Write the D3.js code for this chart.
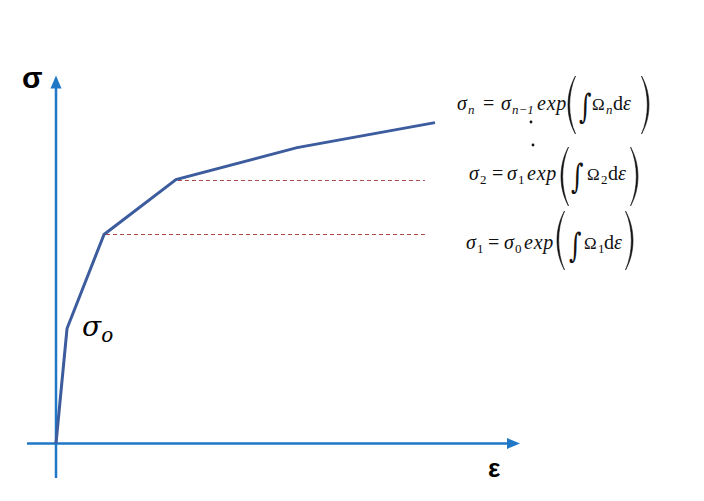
<!DOCTYPE html>
<html><head><meta charset="utf-8">
<script src="https://cdn.jsdelivr.net/npm/d3@7"></script>
<style>body{margin:0;background:#fff}svg{display:block}</style>
</head><body>
<script>
// Data (strain, stress in arbitrary units)
const strain = [0, 0.95, 4.14, 10.34, 20.78, 32.67];
const stress = [0, 31.25, 56.8, 71.7, 80.4, 87.2];
// yield steps marked with dashed reference lines (index into points)
const stepIdx = [2, 3];
const stepEnd = 31.8; // strain where dashed lines end
const axisLabels = {x: "ε", y: "σ"};

const W = 704, H = 501;
const svg = d3.select("body").append("svg").attr("width", W).attr("height", H);

const x = d3.scaleLinear().domain([0, 40]).range([56, 520]);
const y = d3.scaleLinear().domain([0, 100]).range([443.5, 75.5]);

const axisColor = "#1f77c6";
const curveColor = "#3c5c9e";

// axes
svg.append("line").attr("x1", x(0)).attr("x2", x(0)).attr("y1", 478).attr("y2", y(97)).attr("stroke", axisColor).attr("stroke-width", 2.5);
svg.append("path").attr("d", `M${x(0)},${y(100)} L${x(0)-5.5},${y(100)+13} L${x(0)+5.5},${y(100)+13}Z`).attr("fill", axisColor);
svg.append("line").attr("x1", 27).attr("x2", x(39)).attr("y1", y(0)).attr("y2", y(0)).attr("stroke", axisColor).attr("stroke-width", 2.5);
svg.append("path").attr("d", `M${x(40)},${y(0)} L${x(40)-13},${y(0)-5.5} L${x(40)-13},${y(0)+5.5}Z`).attr("fill", axisColor);

// dashed lines
stepIdx.forEach(i => {
  const yy = Math.round(y(stress[i])) + 0.5;
  svg.append("line").attr("x1", x(strain[i]) + 2).attr("x2", x(stepEnd))
    .attr("y1", yy).attr("y2", yy)
    .attr("stroke", "#ad4a47").attr("stroke-width", 1).attr("stroke-dasharray", "4,3");
});

// curve
const pts = strain.map((s, i) => [s, stress[i]]);
svg.append("path").datum(pts)
  .attr("d", d3.line().x(d => x(d[0])).y(d => y(d[1])))
  .attr("fill", "none").attr("stroke", curveColor).attr("stroke-width", 3).attr("stroke-linejoin", "miter");

// axis labels
svg.append("text").attr("x", 22).attr("y", 88).text(axisLabels.y)
  .attr("font-family", "Liberation Sans, Arial, sans-serif").attr("font-weight", "bold").attr("font-size", 30);
svg.append("text").attr("x", 488).attr("y", 477).text(axisLabels.x)
  .attr("font-family", "Liberation Sans, Arial, sans-serif").attr("font-weight", "bold").attr("font-size", 26);

// sigma_o
const so = svg.append("text").attr("x", 82).attr("y", 336)
  .attr("font-family", "DejaVu Serif, serif").attr("font-style", "italic").attr("font-size", 28);
so.append("tspan").text("σ");
so.append("tspan").text("o").attr("font-size", 20).attr("dy", 6);

// equations
const serif = "Liberation Serif, DejaVu Serif, serif";
function paren(cx, y0, y1, left) {
  const h = y1 - y0, bow = 7;
  const s = left ? 1 : -1;
  const xe = cx + s * bow / 2, xm = cx - s * bow / 2;
  const d = `M${xe},${y0} C${xm - s*3},${y0 + h*0.3} ${xm - s*3},${y0 + h*0.7} ${xe},${y1}` +
            ` C${xm - s*0.8},${y0 + h*0.7} ${xm - s*0.8},${y0 + h*0.3} ${xe},${y0}Z`;
  svg.append("path").attr("d", d).attr("fill", "#111").attr("stroke", "#111").attr("stroke-width", 0.6);
}
function piece(txt, px, base, opt = {}) {
  svg.append("text").attr("x", px).attr("y", base + (opt.sub ? 4 : 0)).text(txt)
    .attr("font-family", serif).attr("font-size", opt.size || (opt.sub ? 13 : 20))
    .attr("letter-spacing", opt.ls || 0)
    .attr("font-style", opt.it ? "italic" : "normal").attr("fill", "#111");
}
function eq(o) {
  const b = o.base, p = o.pos;
  piece("σ", p[0], b, {it: true});
  piece(o.lhsSub, p[1], b, {sub: true, it: o.lhsSub === "n"});
  piece("=", p[2], b);
  piece("σ", p[3], b, {it: true});
  piece(o.rhsSub, p[4], b, {sub: true, it: o.rhsSub.length > 1});
  piece("exp", p[5], b, {it: true, ls: 0.8});
  paren(p[6], o.pTop, o.pBot, true);
  svg.append("text").attr("x", p[7]).attr("y", 0).text("∫")
    .attr("transform", `translate(0,${b + 8}) scale(1,1.4)`)
    .attr("font-family", "DejaVu Serif, serif").attr("font-size", 24).attr("fill", "#111");
  piece("Ω", p[8], b, {size: 17});
  piece(o.omegaSub, p[9], b, {sub: true, it: o.omegaSub === "n"});
  piece("d", p[10], b);
  piece("ε", p[11], b, {it: true});
  paren(p[12], o.pTop, o.pBot, false);
}
eq({base: 110, lhsSub: "n", rhsSub: "n−1", omegaSub: "n",
    pos: [457, 468, 483, 501, 512, 537, 572, 579, 592, 606, 613, 623, 645], pTop: 76, pBot: 134});
eq({base: 180, lhsSub: "2", rhsSub: "1", omegaSub: "2",
    pos: [469, 480, 492, 507, 518, 527, 565, 571, 587, 601, 608, 618, 634], pTop: 147, pBot: 206});
eq({base: 249, lhsSub: "1", rhsSub: "0", omegaSub: "1",
    pos: [466, 477, 488, 504, 515, 524, 561, 569, 584, 598, 604, 614, 629], pTop: 211, pBot: 270});
// vertical dots
svg.append("circle").attr("cx", 531).attr("cy", 122).attr("r", 1.4).attr("fill", "#111");
svg.append("circle").attr("cx", 533).attr("cy", 145).attr("r", 1.4).attr("fill", "#111");
</script>
</body></html>
